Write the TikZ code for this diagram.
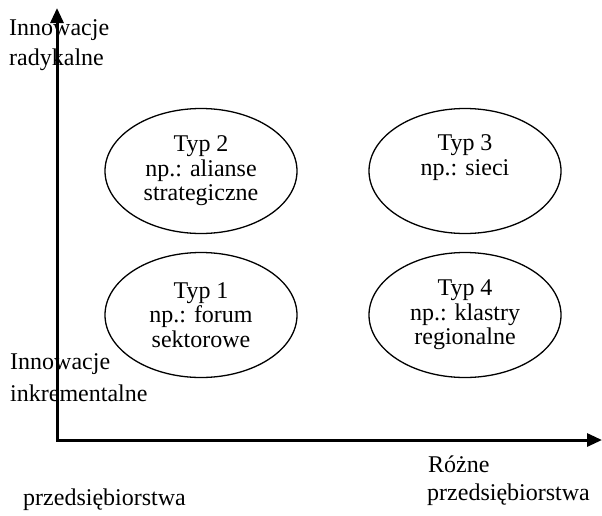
\documentclass[tikz,border=0pt]{standalone}
\usepackage{fontspec}
\setmainfont{Liberation Serif}
\usetikzlibrary{shapes.geometric,arrows.meta}
\begin{document}
\begin{tikzpicture}[x=1pt,y=-1pt,
  lbl/.style={anchor=base west,inner sep=0pt,font=\fontsize{24}{30}\selectfont},
  oval/.style={draw,ellipse,line width=1.3pt,minimum width=192pt,minimum height=125pt,
    inner sep=0pt,align=center,font=\fontsize{24}{24.5}\selectfont},
  axis/.style={line width=3pt,{Triangle[width=13pt,length=15pt]}-{Triangle[width=13pt,length=15pt]}}]
\useasboundingbox (0,0) rectangle (602,515);
% axes
\coordinate (top) at (57,8);
\coordinate (corner) at (57,440);
\coordinate (right) at (602,440);
\draw[axis] (top) -- (corner) -- (right);
% axis labels
\node[lbl] (ir1) at (9,35) {Innowacje};
\node[lbl] (ir2) at (9,65) {radykalne};
\node[lbl] (ii1) at (10,369) {Innowacje};
\node[lbl] (ii2) at (10,401) {inkrementalne};
\node[lbl] (rp1) at (428,472) {Różne};
\node[lbl] (rp2) at (427,500) {przedsiębiorstwa};
\node[lbl] (pp) at (23,505) {przedsiębiorstwa};
% ellipses
\node[oval] (t2) at (201,171) {Typ 2\\np.: alianse\\strategiczne};
\node[oval] (t3) at (465,171) {Typ 3\\np.: sieci\\\strut};
\node[oval] (t1) at (201,315) {Typ 1\\np.: forum\\sektorowe};
\node[oval] (t4) at (465,315) {Typ 4\\np.: klastry\\regionalne};
\end{tikzpicture}
\end{document}
